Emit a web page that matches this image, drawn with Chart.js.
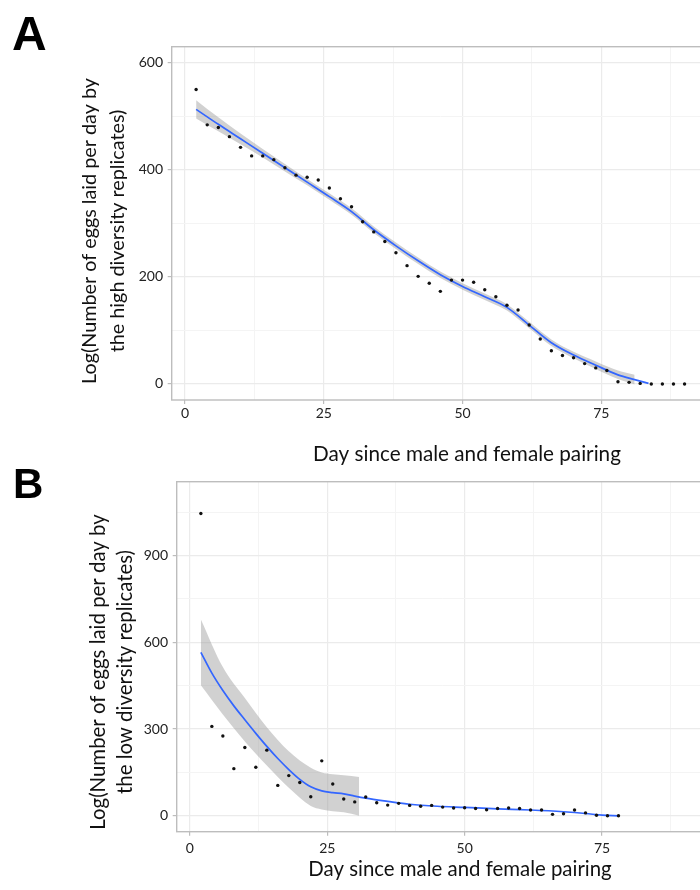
<!DOCTYPE html>
<html>
<head>
<meta charset="utf-8">
<script src="https://cdn.jsdelivr.net/npm/chart.js@4"></script>
<style>
  html, body { margin: 0; padding: 0; background: #fff; width: 700px; height: 890px; overflow: hidden; }
  canvas { position: absolute; left: 0; top: 0; }
</style>
</head>
<body>
<canvas id="panelA" width="720" height="890"></canvas>
<canvas id="panelB" width="720" height="890"></canvas>
<script>
// ---- Panel A: high diversity replicates ----
const daysA = [2, 4, 6, 8, 10, 12, 14, 16, 18, 20, 22, 24, 26, 28, 30, 32, 34, 36, 38, 40, 42, 44, 46,
               48, 50, 52, 54, 56, 58, 60, 62, 64, 66, 68, 70, 72, 74, 76, 78, 80, 82, 84, 86, 88, 90];
const eggsA = [550, 484, 479, 462, 442, 426, 426, 419, 404, 390, 386, 381, 366, 346, 331, 303, 284, 266, 245, 221, 201, 188, 173,
               194, 194, 190, 176, 163, 147, 138, 110, 84, 62, 53, 49, 38, 30, 25, 4, 3, 1, 0, 0, 0, 0];
const fitDaysA = [2, 6, 10, 14, 18, 22, 26, 30, 34, 38, 42, 46, 50, 54, 58, 62, 66, 70, 74, 78, 81, 83.5];
const fitA     = [513, 485, 458, 431, 404, 377, 350, 322, 288, 258, 230, 204, 182, 163, 143, 110, 77, 54, 35, 17, 8, 1];
const bandDaysA = [2, 6, 10, 14, 18, 22, 26, 30, 34, 38, 42, 46, 50, 54, 58, 62, 66, 70, 74, 78, 81];
const bandLowA  = [496, 472, 448, 423, 397, 371, 344, 316, 282, 252, 224, 198, 176, 157, 137, 104, 71, 48, 28, 9, -1];
const bandHighA = [530, 498, 468, 439, 411, 383, 356, 328, 294, 264, 236, 210, 188, 169, 149, 116, 83, 60, 42, 25, 17];

// ---- Panel B: low diversity replicates ----
const daysB = [2, 4, 6, 8, 10, 12, 14, 16, 18, 20, 22, 24, 26, 28, 30, 32, 34, 36, 38, 40,
               42, 44, 46, 48, 50, 52, 54, 56, 58, 60, 62, 64, 66, 68, 70, 72, 74, 76, 78];
const eggsB = [1045, 309, 276, 163, 236, 168, 227, 105, 139, 115, 66, 190, 110, 58, 48, 65, 45, 37, 43, 36,
               33, 36, 30, 27, 28, 25, 21, 25, 27, 25, 20, 20, 5, 7, 20, 10, 2, 0, 0];
const fitDaysB = [2, 4, 6, 8, 10, 12, 14, 16, 18, 20, 22, 24, 26, 28, 30, 32, 36, 40, 45, 50, 56, 62, 68, 72, 75, 78];
const fitB     = [565, 493, 433, 380, 332, 285, 240, 198, 160, 126, 100, 86, 80, 76, 68, 61, 50, 40, 33, 29, 24, 20, 14, 8, 2, 0];
const bandDaysB = [2, 6, 10, 14, 18, 22, 24, 26, 28, 30.8];
const bandLowB  = [451, 350, 257, 174, 97, 34, 22, 16, 12, 0];
const bandHighB = [679, 514, 407, 306, 223, 166, 150, 144, 140, 134];

// ---- Axis tick labels ----
const xTickLabels  = [0, 25, 50, 75];
const yTickLabelsA = [0, 200, 400, 600];
const yTickLabelsB = [0, 300, 600, 900];

const X_TITLE = 'Day since male and female pairing';
const Y_TITLE_A = ['Log(Number of eggs laid per day by', 'the high diversity replicates)'];
const Y_TITLE_B = ['Log(Number of eggs laid per day by', 'the low diversity replicates)'];

const GRID_MAJOR = '#EBEBEB';
const GRID_MINOR = '#F4F4F4';
const FRAME = '#BDBDBD';
const CLEAR = 'rgba(0,0,0,0)';

const pairs = (xs, ys) => xs.map((x, i) => ({ x, y: ys[i] }));
const isMajor = (list, v) => list.some(t => Math.abs(t - v) < 1e-6);
// major ticks plus the minor ones halfway between them
function gridTicks(labels, max) {
  const step = (labels[1] - labels[0]) / 2;
  const out = [];
  for (let v = labels[0]; v <= max; v += step) out.push({ value: v });
  return out;
}

// Panel frame, letter and axis titles
const panelText = {
  id: 'panelText',
  afterDraw(chart, args, o) {
    const ctx = chart.ctx;
    const a = chart.chartArea;
    ctx.save();
    ctx.strokeStyle = FRAME;
    ctx.lineWidth = 1.4;
    ctx.strokeRect(a.left, a.top, a.right - a.left, a.bottom - a.top);

    ctx.fillStyle = '#000';
    ctx.font = 'bold ' + o.letterSize + 'px "Liberation Sans", Arial, sans-serif';
    ctx.textAlign = 'left';
    ctx.textBaseline = 'alphabetic';
    ctx.fillText(o.letter, o.letterX, o.letterY);

    ctx.fillStyle = '#111';
    ctx.font = o.xTitleSize + 'px Lato, "Open Sans", sans-serif';
    ctx.textAlign = 'center';
    ctx.fillText(o.xTitle, o.xTitleX, o.xTitleY);

    ctx.font = o.yTitleSize + 'px Lato, "Open Sans", sans-serif';
    ctx.textBaseline = 'middle';
    o.yTitle.forEach((line, i) => {
      ctx.save();
      ctx.translate(o.yTitleX[i], o.yTitleY);
      ctx.rotate(-Math.PI / 2);
      ctx.fillText(line, 0, 0);
      ctx.restore();
    });
    ctx.restore();
  }
};

function makePanel(id, p) {
  return new Chart(document.getElementById(id), {
    type: 'line',
    data: {
      datasets: [
        { data: pairs(p.days, p.eggs), showLine: false, pointRadius: 1.7, pointHoverRadius: 1.7,
          pointBackgroundColor: '#111', pointBorderWidth: 0, borderColor: CLEAR },
        { data: pairs(p.fitDays, p.fit), borderColor: '#3366FF', borderWidth: 1.7, pointRadius: 0,
          cubicInterpolationMode: 'monotone', fill: false },
        { data: pairs(p.bandDays, p.bandLow), borderColor: CLEAR, borderWidth: 0, pointRadius: 0,
          cubicInterpolationMode: 'monotone', fill: false },
        { data: pairs(p.bandDays, p.bandHigh), borderColor: CLEAR, borderWidth: 0, pointRadius: 0,
          cubicInterpolationMode: 'monotone', fill: '-1', backgroundColor: 'rgba(153,153,153,0.45)' }
      ]
    },
    options: {
      responsive: false,
      animation: false,
      devicePixelRatio: 1,
      events: [],
      layout: { padding: { left: 0, top: p.area.top, right: 720 - p.area.right, bottom: 0 } },
      plugins: {
        legend: { display: false },
        tooltip: { enabled: false },
        panelText: p.text
      },
      scales: {
        x: {
          type: 'linear', min: -2.4, max: 94.4,
          afterBuildTicks: s => { s.ticks = gridTicks(xTickLabels, 94.4); },
          afterFit: s => { s.height = 890 - p.area.bottom; },
          border: { display: false },
          grid: {
            color: c => isMajor(xTickLabels, c.tick.value) ? GRID_MAJOR : GRID_MINOR,
            lineWidth: c => isMajor(xTickLabels, c.tick.value) ? 1.2 : 1,
            tickColor: c => isMajor(xTickLabels, c.tick.value) ? FRAME : CLEAR,
            tickLength: 4
          },
          ticks: {
            autoSkip: false, maxRotation: 0,
            padding: p.xTickPad, color: '#222', font: { family: 'Lato', size: 14 },
            callback: v => isMajor(xTickLabels, v) ? String(v) : ''
          }
        },
        y: {
          type: 'linear', min: p.yMin, max: p.yMax,
          afterBuildTicks: s => { s.ticks = gridTicks(p.yTicks, p.yMax); },
          afterFit: s => { s.width = p.area.left; },
          border: { display: false },
          grid: {
            color: c => isMajor(p.yTicks, c.tick.value) ? GRID_MAJOR : GRID_MINOR,
            lineWidth: c => isMajor(p.yTicks, c.tick.value) ? 1.2 : 1,
            tickColor: c => isMajor(p.yTicks, c.tick.value) ? FRAME : CLEAR,
            tickLength: 4
          },
          ticks: {
            autoSkip: false,
            padding: 4.7, color: '#222', font: { family: 'Lato', size: 14 },
            callback: v => isMajor(p.yTicks, v) ? String(v) : ''
          }
        }
      }
    },
    plugins: [panelText]
  });
}

makePanel('panelA', {
  days: daysA, eggs: eggsA, fitDays: fitDaysA, fit: fitA,
  bandDays: bandDaysA, bandLow: bandLowA, bandHigh: bandHighA,
  yTicks: yTickLabelsA, yMin: -30, yMax: 630,
  area: { left: 171.7, top: 46.7, right: 709, bottom: 400 },
  xTickPad: 1,
  text: {
    letter: 'A', letterSize: 48, letterX: 12, letterY: 50,
    xTitle: X_TITLE, xTitleSize: 20.7, xTitleX: 467, xTitleY: 461,
    yTitle: Y_TITLE_A, yTitleSize: 19.8, yTitleX: [90, 118], yTitleY: 231
  }
});

makePanel('panelB', {
  days: daysB, eggs: eggsB, fitDays: fitDaysB, fit: fitB,
  bandDays: bandDaysB, bandLow: bandLowB, bandHigh: bandHighB,
  yTicks: yTickLabelsB, yMin: -55, yMax: 1155,
  area: { left: 176.7, top: 481.7, right: 708.6, bottom: 831.7 },
  xTickPad: 4,
  text: {
    letter: 'B', letterSize: 42, letterX: 13, letterY: 498,
    xTitle: X_TITLE, xTitleSize: 20.4, xTitleX: 460, xTitleY: 876,
    yTitle: Y_TITLE_B, yTitleSize: 20.4, yTitleX: [98, 125], yTitleY: 672
  }
});
</script>
</body>
</html>
